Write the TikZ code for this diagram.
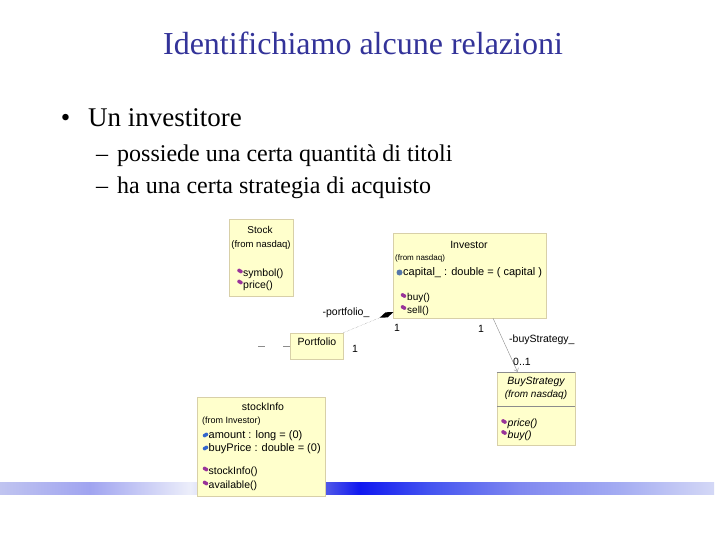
\documentclass[tikz,border=0pt]{standalone}
\usepackage{fontspec}
\setmainfont{Liberation Serif}
\newfontfamily\umlfont{Liberation Sans}
\usetikzlibrary{positioning,arrows.meta,calc}
\definecolor{titleblue}{HTML}{333399}
\definecolor{umlfill}{HTML}{FFFFCC}
\definecolor{umlline}{HTML}{D8D0A8}
\definecolor{linkgrey}{HTML}{8C8C8C}
\definecolor{opcolor}{HTML}{993399}
\definecolor{attcolor}{HTML}{3366CC}
\definecolor{keycolor}{HTML}{5577AA}
\definecolor{bandA}{HTML}{C0C4F0}
\definecolor{bandB}{HTML}{A0A4F0}
\definecolor{bandC}{HTML}{ECEEFA}
\definecolor{bandD}{HTML}{5058E8}
\definecolor{bandE}{HTML}{1018F0}
\definecolor{bandF}{HTML}{4454F0}
\definecolor{bandG}{HTML}{8088F0}
\definecolor{bandH}{HTML}{A4ACF2}
\definecolor{bandI}{HTML}{D4D8F6}
\pgfdeclarehorizontalshading{bandshading}{100bp}{color(0bp)=(bandA); color(25bp)=(bandA);
  color(31.3bp)=(bandB); color(38.3bp)=(bandC); color(47.8bp)=(bandD); color(50.2bp)=(bandE);
  color(55.1bp)=(bandF); color(61.4bp)=(bandG); color(68.4bp)=(bandH); color(75bp)=(bandI);
  color(100bp)=(bandI)}

\tikzset{
  umlbox/.style={draw=umlline, fill=umlfill, line width=0.4pt, inner sep=0pt},
  umltxt/.style={font=\umlfont\fontsize{10.5}{12}\selectfont, inner sep=0pt},
  umlfrom/.style={font=\umlfont\fontsize{9}{11}\selectfont, inner sep=0pt},
  opicon/.style={fill=opcolor, rounded corners=1pt, minimum width=5.5pt, minimum height=3.5pt, inner sep=0pt, rotate=-30},
  atticon/.style={fill=attcolor, rounded corners=1pt, minimum width=5.5pt, minimum height=3.5pt, inner sep=0pt, rotate=30},
  link/.style={linkgrey, line width=0.4pt},
}

\begin{document}
\begin{tikzpicture}[x=1pt,y=-1pt]
      \useasboundingbox (0,0) rectangle (720,540);
      \fill[white] (0,0) rectangle (720,540);

      % slide text
      \node[anchor=base, inner sep=0pt, text=titleblue, font=\fontsize{32}{36}\selectfont] (title) at (363,55) {Identifichiamo alcune relazioni};
      \node[anchor=base, inner sep=0pt, font=\fontsize{27}{30}\selectfont] (dot) at (65.5,127) {\textbullet};
      \node[anchor=base west, inner sep=0pt, font=\fontsize{27}{30}\selectfont] (investitore) at (88,127) {Un investitore};
      \node[anchor=base west, inner sep=0pt, font=\fontsize{24}{28}\selectfont] (dash1) at (96,162) {--};
      \node[anchor=base west, inner sep=0pt, font=\fontsize{24}{28}\selectfont] (titoli) at (117,162) {possiede una certa quantità di titoli};
      \node[anchor=base west, inner sep=0pt, font=\fontsize{24}{28}\selectfont] (dash2) at (96,194) {--};
      \node[anchor=base west, inner sep=0pt, font=\fontsize{24}{28}\selectfont] (strategia) at (117,194) {ha una certa strategia di acquisto};

      % bottom band
      \shade[shading=bandshading] (0,482) rectangle (714,494);

      % Stock
      \node[umlbox, minimum width=64, minimum height=77] (stock) at (261,257.5) {};
      \node[umltxt, font=\umlfont\fontsize{10}{12}\selectfont] (stockname) at (260,230) {Stock};
      \node[umlfrom, font=\umlfont\fontsize{9.5}{11}\selectfont] (stockfrom) at (261,245) {(from nasdaq)};
      \node[opicon] (stockop1) at (240,271) {};
      \node[umltxt, anchor=west] (stocksymbol) at (243,274) {symbol()};
      \node[opicon] (stockop2) at (240,282) {};
      \node[umltxt, anchor=west] (stockprice) at (243,285.5) {price()};

      % Investor
      \node[umlbox, minimum width=153, minimum height=85] (investor) at (469.5,275.5) {};
      \node[umltxt] (invname) at (469,245) {Investor};
      \node[umlfrom, font=\umlfont\fontsize{8}{10}\selectfont, anchor=west] (invfrom) at (395,258) {(from nasdaq)};
      \node[circle, fill=keycolor, minimum size=6pt, inner sep=0pt] (invkey) at (399.5,272.5) {};
      \node[umltxt, font=\umlfont\fontsize{11}{13}\selectfont, anchor=west] (invcapital) at (403,273) {capital\_ : double = ( capital )};
      \node[opicon] (invop1) at (403.5,295.5) {};
      \node[umltxt, font=\umlfont\fontsize{10}{12}\selectfont, anchor=west] (invbuy) at (407,298) {buy()};
      \node[opicon] (invop2) at (403.5,307.5) {};
      \node[umltxt, font=\umlfont\fontsize{10}{12}\selectfont, anchor=west] (invsell) at (407,310.5) {sell()};

      % Portfolio
      \node[umlbox, minimum width=53, minimum height=26] (portfolio) at (316.5,346) {};
      \node[umltxt] (portfoliotxt) at (317,342) {Portfolio};

      % BuyStrategy
      \node[umlbox, minimum width=78, minimum height=73] (buystrat) at (536,408.5) {};
      \draw[linkgrey] (buystrat.north west) -- (buystrat.north east);
      \draw[linkgrey] (497,406) -- (575,406);
      \node[umltxt, font=\umlfont\itshape\fontsize{10.5}{12}\selectfont] (bsname) at (536,382) {BuyStrategy};
      \node[umltxt, font=\umlfont\itshape\fontsize{10}{12}\selectfont] (bsfrom) at (536,395) {(from nasdaq)};
      \node[opicon] (bsop1) at (504,421.5) {};
      \node[umltxt, font=\umlfont\itshape\fontsize{10.5}{12}\selectfont, anchor=west] (bsprice) at (507.5,424) {price()};
      \node[opicon] (bsop2) at (504,432.5) {};
      \node[umltxt, font=\umlfont\itshape\fontsize{10.5}{12}\selectfont, anchor=west] (bsbuy) at (507.5,436) {buy()};

      % stockInfo
      \node[umlbox, minimum width=128, minimum height=99] (stockinfo) at (261,446.5) {};
      \node[umltxt] (siname) at (263,407) {stockInfo};
      \node[umlfrom, anchor=west] (sifrom) at (202,421) {(from Investor)};
      \node[atticon] (siatt1) at (205.5,435) {};
      \node[umltxt, font=\umlfont\fontsize{11}{13}\selectfont, anchor=west] (siamount) at (208.5,436) {amount : long = (0)};
      \node[atticon] (siatt2) at (205.5,448) {};
      \node[umltxt, font=\umlfont\fontsize{11}{13}\selectfont, anchor=west] (siprice) at (208.5,449) {buyPrice : double = (0)};
      \node[opicon] (siop1) at (205.5,469) {};
      \node[umltxt, anchor=west] (sistock) at (208.5,472) {stockInfo()};
      \node[opicon] (siop2) at (205.5,483) {};
      \node[umltxt, anchor=west] (siavail) at (208.5,486) {available()};

      % relations
      \coordinate (compend) at (393.5,312);
      \coordinate (pfleft) at (258,346);
      \draw[link, densely dotted, -{Diamond[length=15pt,width=5.5pt,fill=black,line width=0pt]}] (portfolio.north east) -- (compend);
      \draw[link, dash pattern=on 7pt off 18pt] (pfleft) -- (portfolio.west);
      \draw[link, -{Straight Barb[length=3pt,width=5pt]}] ([xshift=23.5]investor.south) -- ([xshift=-18.5]buystrat.north);

      \node[umltxt] (lblportfolio) at (346,313) {-portfolio\_};
      \node[umltxt] (lblone1) at (397,328) {1};
      \node[umltxt] (lblone2) at (355,349) {1};
      \node[umltxt] (lblone3) at (481,329) {1};
      \node[umltxt, anchor=west] (lblbuy) at (509,340) {-buyStrategy\_};
      \node[umltxt] (lblzero) at (522,362) {0..1};
    \end{tikzpicture}
\end{document}
